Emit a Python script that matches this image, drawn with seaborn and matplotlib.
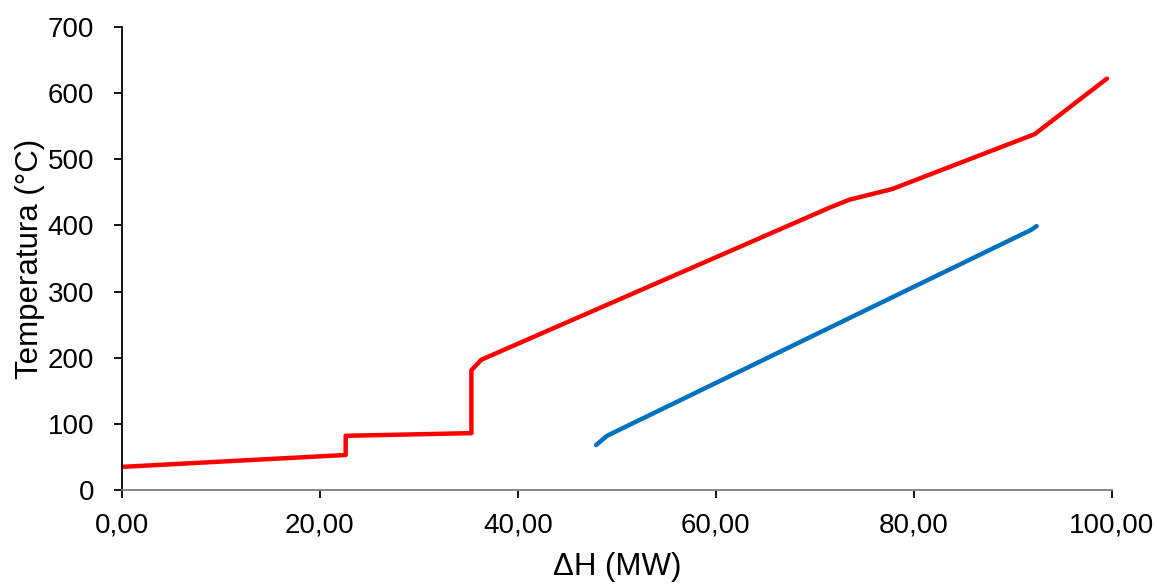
import pandas as pd
import matplotlib.pyplot as plt
import seaborn as sns

# hot composite curve (red)
hot_dh = [0.0, 22.6, 22.6, 35.3, 35.3, 36.3, 71.5, 73.5, 77.8, 92.2, 99.5]
hot_t = [35, 53, 82, 86, 181, 197, 427, 439, 455, 538, 622]

# cold composite curve (blue)
cold_dh = [47.9, 49.0, 91.8, 92.4]
cold_t = [68, 82, 393, 399]

x_ticks = [0, 20, 40, 60, 80, 100]
y_ticks = [0, 100, 200, 300, 400, 500, 600, 700]


def main():
    sns.set_theme(style="white")
    plt.rcParams['font.family'] = ['Liberation Sans', 'DejaVu Sans']

    hot = pd.DataFrame({'dh': hot_dh, 't': hot_t})
    cold = pd.DataFrame({'dh': cold_dh, 't': cold_t})

    fig = plt.figure(figsize=(11.57, 5.87), dpi=100)
    ax = fig.add_axes([0.1054, 0.1652, 0.8556, 0.7888])

    sns.lineplot(data=hot, x='dh', y='t', sort=False, estimator=None,
                 color='#FF0000', linewidth=3.2, ax=ax)
    sns.lineplot(data=cold, x='dh', y='t', sort=False, estimator=None,
                 color='#0070C0', linewidth=3.2, ax=ax,
                 solid_capstyle='round')

    ax.set_xlim(0, 100)
    ax.set_ylim(0, 700)
    ax.set_xticks(x_ticks)
    ax.set_xticklabels([f"{v:.2f}".replace('.', ',') for v in x_ticks])
    ax.set_yticks(y_ticks)

    for s in ['top', 'right']:
        ax.spines[s].set_visible(False)
    ax.spines['left'].set_color('black')
    ax.spines['left'].set_linewidth(1.3)
    ax.spines['bottom'].set_color('#7f7f7f')
    ax.spines['bottom'].set_linewidth(1.3)

    ax.tick_params(axis='both', which='major', labelsize=20, colors='black',
                   length=6, width=1.3, direction='out', left=True, bottom=True)
    ax.tick_params(axis='x', pad=10)
    ax.tick_params(axis='y', pad=14)

    ax.set_xlabel('ΔH (MW)', fontsize=22.5, color='black', labelpad=10)
    ax.set_ylabel('Temperatura (°C)', fontsize=22.5, color='black', labelpad=2)

    fig.savefig('out.png', dpi=100)


if __name__ == '__main__':
    main()
